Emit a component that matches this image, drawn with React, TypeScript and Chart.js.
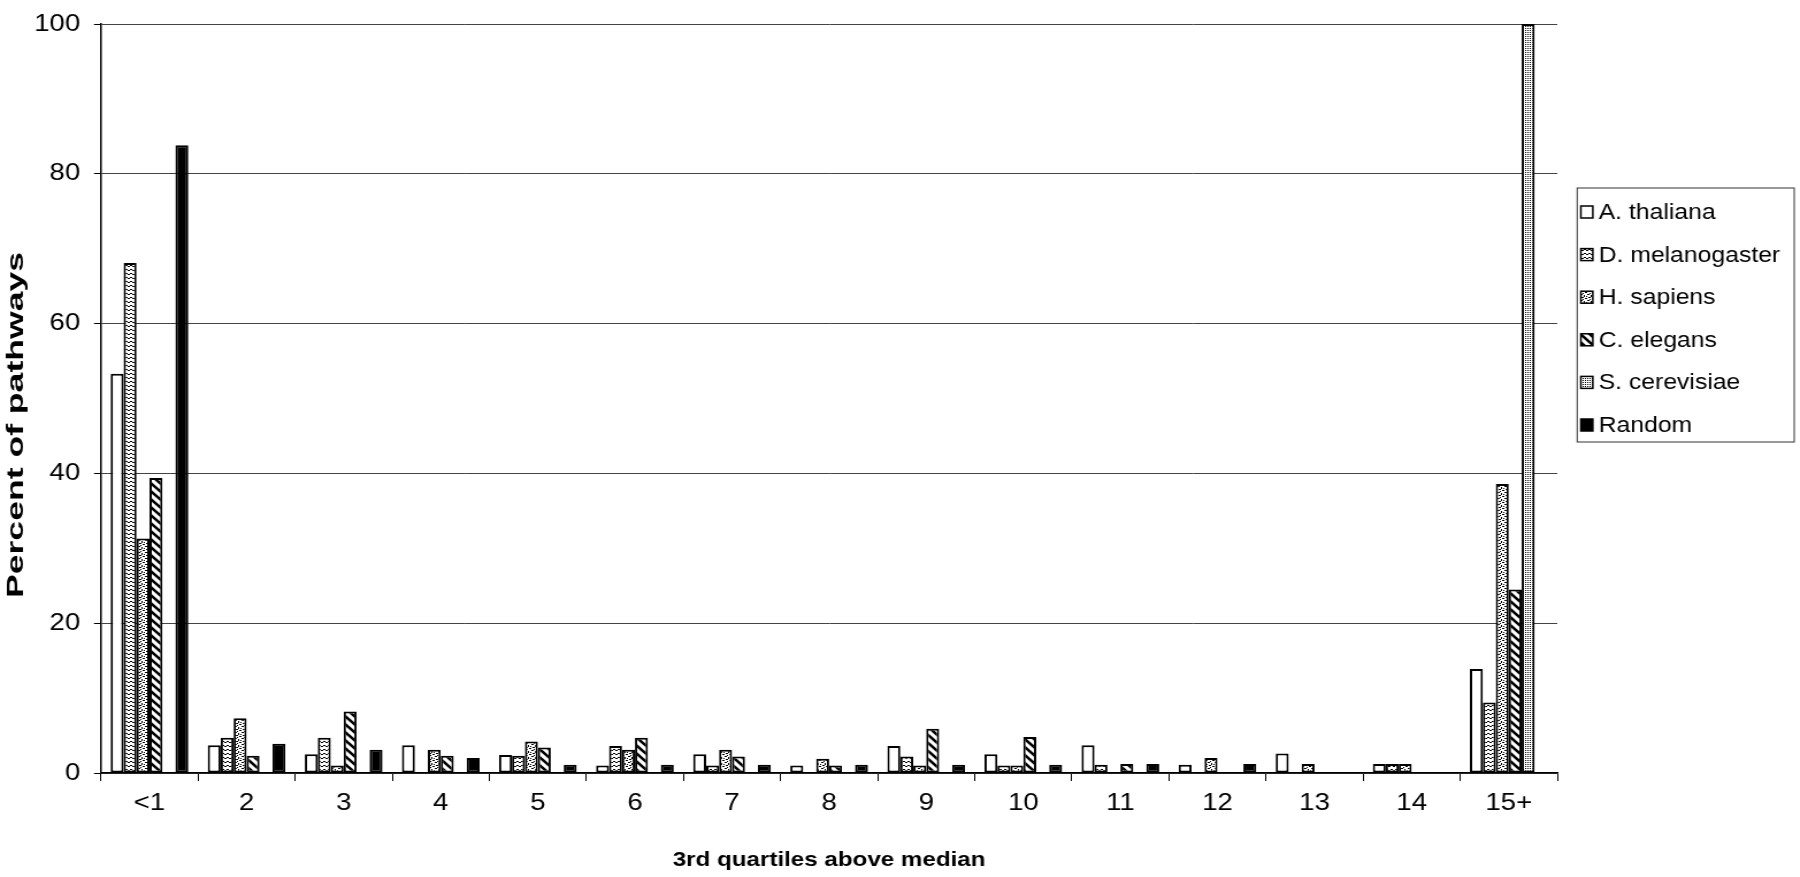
import React, { useEffect, useRef } from 'react';
import { Chart, registerables } from 'chart.js';

Chart.register(...registerables);

const categories = ['<1', '2', '3', '4', '5', '6', '7', '8', '9', '10', '11', '12', '13', '14', '15+'];

const thaliana = [53.3, 3.7, 2.5, 3.7, 2.4, 1.0, 2.5, 1.0, 3.6, 2.5, 3.7, 1.1, 2.6, 1.2, 13.9];
const melanogaster = [68.1, 4.7, 4.7, 0, 2.3, 3.6, 1.0, 0, 2.2, 1.0, 1.1, 0, 0, 1.2, 9.4];
const sapiens = [31.3, 7.3, 1.0, 3.1, 4.2, 3.1, 3.1, 1.9, 1.0, 1.0, 0, 2.0, 1.2, 1.2, 38.6];
const elegans = [39.4, 2.3, 8.2, 2.3, 3.4, 4.7, 2.2, 1.0, 5.9, 4.8, 1.2, 0, 0, 0, 24.5];
const cerevisiae = [0, 0, 0, 0, 0, 0, 0, 0, 0, 0, 0, 0, 0, 0, 100];
const random = [83.8, 3.9, 3.1, 2.0, 1.1, 1.1, 1.1, 1.1, 1.1, 1.1, 1.2, 1.2, 0, 0, 0];

const seriesNames = ['A. thaliana', 'D. melanogaster', 'H. sapiens', 'C. elegans', 'S. cerevisiae', 'Random'];
const seriesValues = [thaliana, melanogaster, sapiens, elegans, cerevisiae, random];
const seriesPatterns = ['white', 'wave', 'confetti', 'hatch', 'fine', 'black'];

const yTicks = [0, 20, 40, 60, 80, 100];

const FONT = "'Liberation Sans', Arial, Helvetica, sans-serif";
const W_INT = 1565;
const H = 877;

function makeFill(kind: string): any {
  if (kind === 'white') return '#ffffff';
  if (kind === 'black') return '#000000';
  const tile = document.createElement('canvas');
  const c = tile.getContext('2d') as CanvasRenderingContext2D;
  if (kind === 'wave') {
    tile.width = 4; tile.height = 4;
    c.fillStyle = '#fff'; c.fillRect(0, 0, 4, 4);
    c.strokeStyle = '#000'; c.lineWidth = 1;
    c.beginPath(); c.moveTo(0, 3); c.lineTo(2, 1); c.lineTo(4, 3); c.stroke();
  } else if (kind === 'confetti') {
    tile.width = 6; tile.height = 6;
    c.fillStyle = '#fff'; c.fillRect(0, 0, 6, 6);
    c.fillStyle = '#000';
    const dots = [[0, 0, 2, 1], [3, 1, 1, 2], [1, 3, 2, 1], [4, 4, 2, 1], [5, 2, 1, 1], [2, 5, 1, 1]];
    dots.forEach(([x, y, w, h]) => c.fillRect(x, y, w, h));
  } else if (kind === 'hatch') {
    tile.width = 8; tile.height = 8;
    c.fillStyle = '#fff'; c.fillRect(0, 0, 8, 8);
    c.strokeStyle = '#000'; c.lineWidth = 2.6;
    c.beginPath();
    c.moveTo(-2, -2); c.lineTo(10, 10);
    c.moveTo(-2, 6); c.lineTo(2, 10);
    c.moveTo(6, -2); c.lineTo(10, 2);
    c.stroke();
  } else if (kind === 'fine') {
    tile.width = 2; tile.height = 2;
    c.fillStyle = '#fff'; c.fillRect(0, 0, 2, 2);
    c.fillStyle = '#000'; c.fillRect(0, 0, 1, 1);
  }
  const ctx = document.createElement('canvas').getContext('2d') as CanvasRenderingContext2D;
  return ctx.createPattern(tile, 'repeat');
}

export default function App() {
  const ref = useRef<HTMLCanvasElement | null>(null);

  useEffect(() => {
    const canvas = ref.current;
    if (!canvas) return;
    const fills = seriesPatterns.map(makeFill);

    const overlay = {
      id: 'overlay',
      afterDraw(chart: any) {
        const ctx = chart.ctx as CanvasRenderingContext2D;
        // Y axis title, drawn rotated
        ctx.save();
        ctx.font = `bold 20px ${FONT}`;
        ctx.fillStyle = '#000';
        ctx.textAlign = 'center';
        ctx.textBaseline = 'middle';
        const title = 'Percent of pathways';
        const natural = ctx.measureText(title).width;
        ctx.translate(14, 425);
        ctx.rotate(-Math.PI / 2);
        ctx.scale(346 / natural, 1);
        ctx.fillText(title, 0, 0);
        ctx.restore();

        // Legend box
        ctx.save();
        const bx = 1371.3, by = 188, bw = 188.7, bh = 254;
        ctx.strokeStyle = '#333';
        ctx.lineWidth = 1;
        ctx.strokeRect(bx, by, bw, bh);
        ctx.font = `21.5px ${FONT}`;
        ctx.textAlign = 'left';
        ctx.textBaseline = 'middle';
        seriesNames.forEach((name, i) => {
          const cy = 212 + i * 42.6;
          ctx.fillStyle = fills[i];
          ctx.fillRect(1374.5, cy - 6, 10.4, 12);
          ctx.strokeStyle = '#000';
          ctx.lineWidth = 1.5;
          ctx.strokeRect(1374.5, cy - 6, 10.4, 12);
          ctx.fillStyle = '#000';
          ctx.fillText(name, 1390, cy + 1);
        });
        ctx.restore();
      },
    };

    const chart = new Chart(canvas, {
      type: 'bar',
      data: {
        labels: categories,
        datasets: seriesNames.map((name, i) => ({
          label: name,
          data: seriesValues[i],
          backgroundColor: fills[i],
          borderColor: '#000',
          borderWidth: 2,
          borderSkipped: false,
          categoryPercentage: 0.8,
          barPercentage: 1.0,
        })),
      },
      options: {
        responsive: false,
        animation: false,
        devicePixelRatio: 1,
        layout: { padding: { left: 0, right: 211, top: 12, bottom: 0 } },
        plugins: {
          legend: { display: false },
          tooltip: { enabled: false },
        },
        scales: {
          x: {
            grid: {
              display: true,
              drawOnChartArea: false,
              drawTicks: true,
              tickLength: 8,
              color: '#000',
              lineWidth: 1,
              offset: true,
            },
            border: { display: true, color: '#000', width: 1.5 },
            ticks: {
              font: { family: FONT, size: 24, lineHeight: 1 },
              color: '#000',
              padding: 10,
              maxRotation: 0,
              autoSkip: false,
            },
            title: {
              display: true,
              text: '3rd quartiles above median',
              font: { family: FONT, size: 21, weight: 'bold', lineHeight: 1 },
              color: '#000',
              padding: { top: 0, bottom: 6 },
            },
            afterFit: (s: any) => { s.height = 104; },
          },
          y: {
            min: yTicks[0],
            max: yTicks[yTicks.length - 1],
            afterBuildTicks: (s: any) => { s.ticks = yTicks.map((v) => ({ value: v })); },
            ticks: {
              font: { family: FONT, size: 24, lineHeight: 1 },
              color: '#000',
              padding: 12,
            },
            grid: { color: '#444', lineWidth: 1, tickLength: 6, drawTicks: true, tickColor: '#000' },
            border: { display: true, color: '#000', width: 1.5 },
            afterFit: (s: any) => { s.width = 87.8; },
          },
        },
      },
      plugins: [overlay],
    } as any);

    return () => chart.destroy();
  }, []);

  return (
    <canvas
      ref={ref}
      width={W_INT}
      height={H}
      style={{ position: 'fixed', left: 0, top: 0, width: '1800px', height: `${H}px`, background: '#fff' }}
    />
  );
}
